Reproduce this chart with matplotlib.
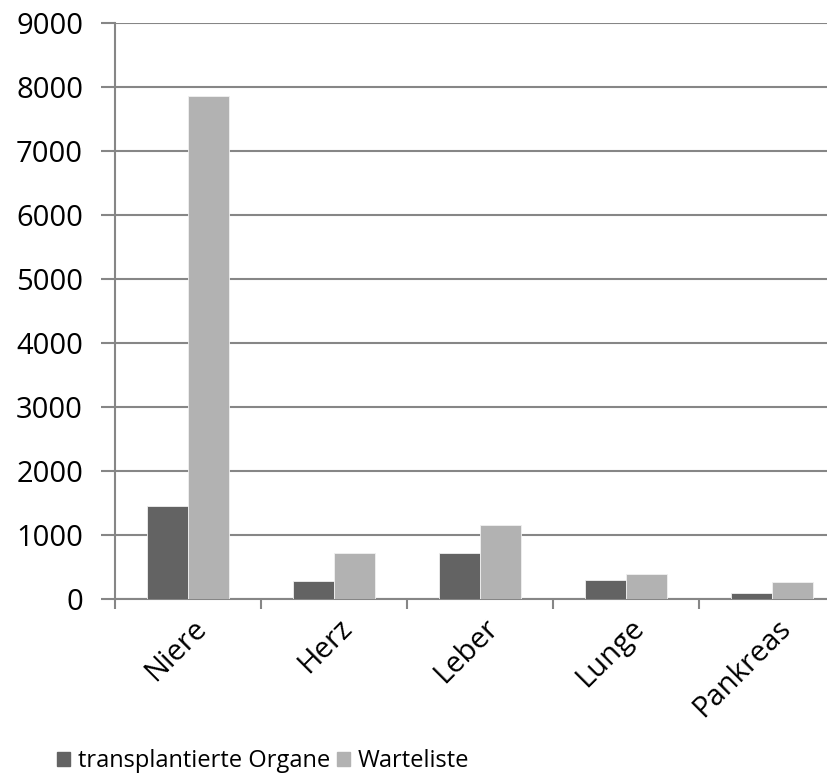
import numpy as np
import matplotlib
matplotlib.use("Agg")
import matplotlib.pyplot as plt
import matplotlib.transforms as mtransforms
from matplotlib.patches import Patch

# organ transplants vs. waiting list
organe = ["Niere", "Herz", "Leber", "Lunge", "Pankreas"]
transplantiert = [1458, 286, 719, 297, 94]
warteliste = [7864, 719, 1150, 390, 266]

DARK = "#636363"
LIGHT = "#b2b2b2"
AXC = "#868686"

plt.rcParams["font.family"] = ["Open Sans", "DejaVu Sans"]

W, H = 827, 774
fig = plt.figure(figsize=(W / 100, H / 100), dpi=100)
# axes runs a little past the right edge of the figure
x0, y0, y1, cat_w = 115, 599, 23, 146
ax = fig.add_axes([x0 / W, (H - y0) / H, 5 * cat_w / W, (y0 - y1) / H])

x = np.arange(len(organe))
bw = 41 / cat_w
ax.bar(x - bw / 2, transplantiert, bw, color=DARK, edgecolor="#f0f0f0", lw=0.6, zorder=3)
ax.bar(x + bw / 2, warteliste, bw, color=LIGHT, edgecolor="#f0f0f0", lw=0.6, zorder=3)

ax.set_xlim(-0.5, len(organe) - 0.5)
ax.set_ylim(0, 9000)
ax.set_yticks(np.arange(0, 9001, 1000))
ax.yaxis.grid(True, color=AXC, lw=1.5, zorder=0)
ax.set_axisbelow(True)

ax.set_xticks(np.arange(-0.5, len(organe), 1.0))
ax.set_xticklabels([])
ax.tick_params(axis="x", which="major", length=7, width=1.5, color=AXC, direction="out")
ax.set_xticks(x, minor=True)
ax.set_xticklabels(organe, minor=True, rotation=45, ha="right", va="center",
                   rotation_mode="anchor", fontsize=21)
ax.tick_params(axis="x", which="minor", length=0, pad=18)
shift = mtransforms.ScaledTranslation(14 / 100, 0, fig.dpi_scale_trans)
for lab in ax.get_xticklabels(minor=True):
    lab.set_transform(lab.get_transform() + shift)
ax.tick_params(axis="y", length=10, width=1.5, color=AXC, labelsize=21, pad=13)

for s in ("top", "right"):
    ax.spines[s].set_visible(False)
for s in ("left", "bottom"):
    ax.spines[s].set_color(AXC)
    ax.spines[s].set_linewidth(1.5)

handles = [Patch(color=DARK, label="transplantierte Organe"),
           Patch(color=LIGHT, label="Warteliste")]
fig.legend(handles=handles, loc="center left", bbox_to_anchor=(36 / W, 1 - 761 / H),
           ncol=2, frameon=False, fontsize=17, handlelength=0.55, handleheight=0.55,
           handletextpad=0.35, columnspacing=0.25)

fig.savefig("out.png", dpi=100)
